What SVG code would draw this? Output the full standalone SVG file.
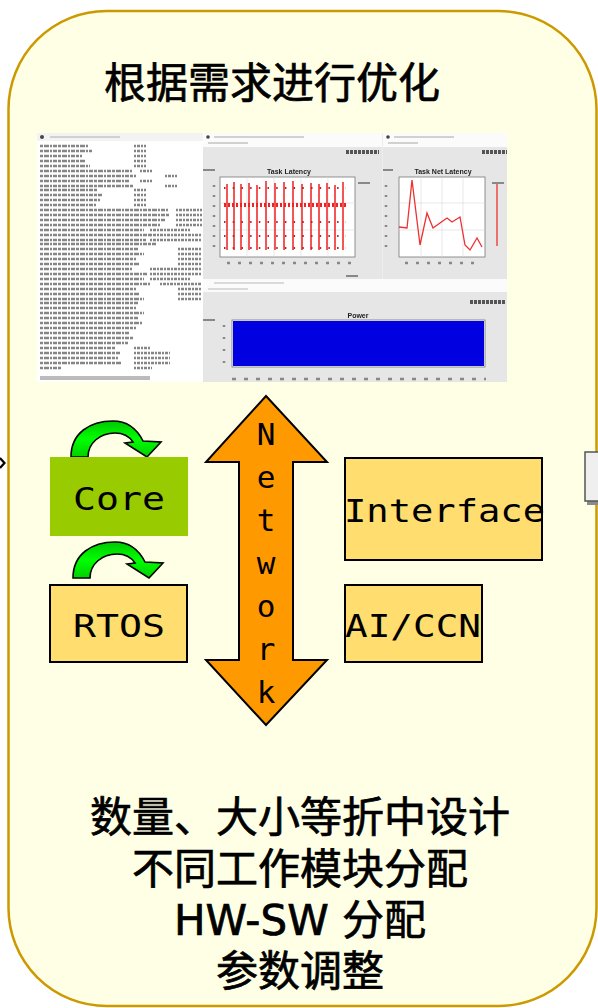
<svg xmlns="http://www.w3.org/2000/svg" width="598" height="1008" viewBox="0 0 598 1008">
  <style>
    .cjk { font-family: "DejaVu Sans", "Noto Sans CJK SC", sans-serif; fill: #000; stroke: #000; stroke-width: 0.7; }
    .mono { font-family: "DejaVu Sans Mono", "Liberation Mono", monospace; fill: #000; }
    .box { fill: #FFDD6E; stroke: #000; stroke-width: 2; }
    .txtrow { stroke: #858585; stroke-width: 2.4; fill: none; }
    .win { fill: #E6E6E6; }
    .bar { fill: #FBFBFB; }
    .ptitle { font-family: "Liberation Sans", Arial, sans-serif; font-size: 7px; font-weight: bold; fill: #222; }
  </style>
  <defs>
    <linearGradient id="greenGrad" x1="0" y1="0" x2="0" y2="1">
      <stop offset="0" stop-color="#00C800"/>
      <stop offset="0.5" stop-color="#00FF00"/>
      <stop offset="1" stop-color="#00D000"/>
    </linearGradient>
    <filter id="soft" x="30" y="125" width="485" height="265" filterUnits="userSpaceOnUse">
      <feGaussianBlur stdDeviation="0.75"/>
    </filter>
    <!-- curved "loop" arrow used above Core and RTOS -->
    <path id="loopArrow" d="M0,36 C0,12 19,0 42,0 C56,0 66,8 72,20 L90,21 L76,36 L54,22 L62,21 C58,15 52,12 44,12 C29,12 17,22 17,36 Z"
          fill="url(#greenGrad)" stroke="#000" stroke-width="1.6" stroke-linejoin="miter"/>
  </defs>

  <!-- background panel -->
  <rect x="0" y="0" width="598" height="1008" fill="#FFFFFF"/>
  <g id="panel">
    <rect x="8.5" y="11" width="588" height="995" rx="98" ry="98" fill="#FFFFE5" stroke="#CC9900" stroke-width="2.5"/>
    <text class="cjk" x="272" y="98" font-size="42" text-anchor="middle">根据需求进行优化</text>
  </g>

  <!-- simulation screenshot: console + plot windows -->
  <g id="screenshot" filter="url(#soft)">
    <rect x="37" y="133" width="470" height="249" fill="#EDEDED"/>

    <!-- console window -->
    <rect x="37" y="133" width="166" height="249" fill="#FFFFFF"/>
    <rect x="37" y="133" width="166" height="8" fill="#F3F3F3"/>
    <circle cx="42" cy="137" r="2" fill="#444"/>
    <path d="M50,137 h70" stroke="#C4C4C4" stroke-width="1.5"/>
    <path class="txtrow" stroke-dasharray="3 1 5 1 2 1 4 1"
      d="M40,146 h48 M40,151 h52 M40,156 h42 M40,161 h46 M40,166 h50
         M40,171 h92 M40,176 h96 M40,181 h90 M40,186 h94
         M40,190 h58 M40,195 h62 M40,200 h60 M40,205 h56
         M40,210 h128 M40,215 h130 M40,220 h126 M40,225 h120
         M40,230 h104 M40,235 h112 M40,240 h106 M40,244 h116
         M40,249 h98 M40,254 h104 M40,259 h96 M40,264 h100
         M40,269 h92 M40,274 h108 M40,279 h104 M40,284 h110
         M40,289 h96 M40,294 h100 M40,299 h104 M40,303 h98
         M40,308 h96 M40,313 h104 M40,318 h98 M40,323 h102
         M40,328 h96 M40,333 h90 M40,338 h94 M40,343 h88
         M40,348 h76 M40,353 h80 M40,358 h78 M40,363 h82 M40,368 h22"/>
    <path class="txtrow" stroke-dasharray="2 1 3 1"
      d="M134,146 h12 M134,151 h12 M134,156 h12 M134,161 h12 M134,166 h12
         M140,171 h12 M165,176 h12 M140,181 h12 M165,186 h12
         M134,190 h12 M134,195 h12 M134,200 h12 M134,205 h12
         M176,210 h26 M176,215 h26 M176,220 h26 M176,225 h26
         M150,230 h40 M150,235 h52 M150,240 h52
         M178,249 h24 M178,254 h24 M178,259 h24 M178,264 h24
         M150,269 h52 M150,274 h52 M150,279 h40 M160,284 h42
         M178,289 h24 M178,294 h24 M178,299 h24
         M134,348 h16 M134,353 h36 M134,358 h36 M134,363 h36 M134,368 h18"/>
    <rect x="40" y="376" width="110" height="4" fill="#BBBBBB"/>

    <!-- Task Latency window -->
    <rect class="win" x="203" y="133" width="179" height="146"/>
    <rect class="bar" x="203" y="133" width="179" height="14"/>
    <circle cx="208" cy="137" r="1.8" fill="#444"/>
    <path d="M214,137 h90 M208,143 h40" stroke="#C4C4C4" stroke-width="1.5"/>
    <path d="M346,152 h33" stroke="#555" stroke-width="4" stroke-dasharray="3 1"/>
    <rect x="220" y="177" width="135" height="80" fill="#FFFFFF" stroke="#777" stroke-width="0.8"/>
    <path d="M220,203 h135 M220,230 h135 M247,177 v80 M274,177 v80 M301,177 v80 M328,177 v80" stroke="#D8D8D8" stroke-width="0.6"/>
    <path d="M227,184 v66 M234,182 v68 M241,184 v66 M249,183 v67 M257,185 v65 M266,181 v69 M275,183 v67 M284,182 v68 M293,181 v69 M302,184 v66 M311,183 v67 M319,184 v66 M327,183 v67 M335,185 v65 M343,182 v68"
          stroke="#EE2020" stroke-width="1.5"/>
    <path d="M224,205 h122" stroke="#EE2020" stroke-width="4" stroke-dasharray="2 2"/>
    <path d="M224,188 h122 M224,222 h122 M224,236 h122 M224,248 h122" stroke="#C02020" stroke-width="2" stroke-dasharray="1.5 7.2"/>
    <text class="ptitle" x="289" y="174" text-anchor="middle">Task Latency</text>
    <path d="M214,185 v70" stroke="#888" stroke-width="2.5" stroke-dasharray="2 8"/>
    <path d="M227,263 h125" stroke="#888" stroke-width="2.5" stroke-dasharray="3 8"/>
    <path d="M203,170 h12 M358,183 h12 M346,276 h12" stroke="#888" stroke-width="2"/>

    <!-- Task Net Latency window -->
    <rect class="win" x="383" y="133" width="124" height="146"/>
    <rect class="bar" x="383" y="133" width="124" height="14"/>
    <circle cx="388" cy="137" r="1.8" fill="#444"/>
    <path d="M394,137 h60 M388,143 h30" stroke="#C4C4C4" stroke-width="1.5"/>
    <path d="M482,152 h25" stroke="#555" stroke-width="4" stroke-dasharray="3 1"/>
    <rect x="399" y="177" width="86" height="80" fill="#FFFFFF" stroke="#777" stroke-width="0.8"/>
    <path d="M399,203 h86 M399,230 h86 M421,177 v80 M442,177 v80 M463,177 v80" stroke="#D8D8D8" stroke-width="0.6"/>
    <polyline points="399,227 407,228 412,180 420,245 427,213 433,228 440,223 447,218 452,222 460,217 465,245 470,250 477,238 482,247"
              fill="none" stroke="#EE3030" stroke-width="1.3"/>
    <path d="M497,184 v62" stroke="#EE3030" stroke-width="1.3"/>
    <text class="ptitle" x="443" y="174" text-anchor="middle">Task Net Latency</text>
    <path d="M386,185 v70" stroke="#888" stroke-width="2.5" stroke-dasharray="2 8"/>
    <path d="M405,263 h72" stroke="#888" stroke-width="2.5" stroke-dasharray="3 8"/>
    <path d="M383,170 h10 M492,183 h12" stroke="#888" stroke-width="2"/>

    <!-- Power window -->
    <rect class="win" x="203" y="279" width="304" height="103"/>
    <rect class="bar" x="203" y="279" width="304" height="13"/>
    <path d="M214,283 h70 M208,289 h40" stroke="#D0D0D0" stroke-width="1.5"/>
    <path d="M470,302 h35" stroke="#555" stroke-width="4" stroke-dasharray="3 1"/>
    <rect x="232" y="320" width="253" height="47" fill="#FFFFFF" stroke="#777" stroke-width="0.8"/>
    <rect x="233" y="321" width="251" height="45" fill="#0000E0"/>
    <text class="ptitle" x="358" y="318" text-anchor="middle">Power</text>
    <path d="M224,325 v40" stroke="#888" stroke-width="2.5" stroke-dasharray="2 10"/>
    <path d="M232,379 h254" stroke="#888" stroke-width="2.5" stroke-dasharray="4 8"/>
    <path d="M203,320 h12" stroke="#888" stroke-width="2"/>
  </g>

  <!-- connectors -->
  <g id="connectors">
    <path d="M0,458 L4.5,463 L0,468" fill="none" stroke="#000" stroke-width="2.2"/>
    <use href="#loopArrow" x="71" y="421"/>
    <use href="#loopArrow" x="73" y="542"/>
  </g>

  <!-- network double arrow -->
  <g id="network">
    <polygon points="266,396 327,462 293,462 293,660 327,660 266,725 206,660 239,660 239,462 206,462"
             fill="#FF9900" stroke="#000" stroke-width="2"/>
    <g class="mono" font-size="31" text-anchor="middle">
      <text x="266" y="445">N</text>
      <text x="266" y="488">e</text>
      <text x="266" y="531">t</text>
      <text x="266" y="574">w</text>
      <text x="266" y="617">o</text>
      <text x="266" y="660">r</text>
      <text x="266" y="703">k</text>
    </g>
  </g>

  <g id="core">
    <rect x="50" y="457" width="138" height="79" fill="#99CC00"/>
    <text class="mono" x="73" y="510" font-size="32" textLength="92" lengthAdjust="spacingAndGlyphs">Core</text>
  </g>

  <g id="rtos">
    <rect class="box" x="50" y="585" width="137" height="77"/>
    <text class="mono" x="73" y="637" font-size="32" textLength="92" lengthAdjust="spacingAndGlyphs">RTOS</text>
  </g>

  <g id="interface">
    <rect class="box" x="345" y="458" width="197" height="102"/>
    <text class="mono" x="344" y="522" font-size="32" textLength="201" lengthAdjust="spacingAndGlyphs">Interface</text>
  </g>

  <g id="ai-ccn">
    <rect class="box" x="345" y="585" width="137" height="77"/>
    <text class="mono" x="345" y="637" font-size="32" textLength="136" lengthAdjust="spacingAndGlyphs">AI/CCN</text>
  </g>

  <!-- partially visible button at right edge -->
  <g id="side-button">
    <rect x="587" y="456" width="20" height="49" fill="#8A8A8A"/>
    <rect x="585" y="452" width="20" height="49" fill="#EFEFEF" stroke="#555" stroke-width="1.5"/>
  </g>

  <g id="notes" class="cjk" font-size="42" text-anchor="middle">
    <text x="300" y="832">数量、大小等折中设计</text>
    <text x="300" y="884">不同工作模块分配</text>
    <text x="300" y="935">HW-SW 分配</text>
    <text x="300" y="986">参数调整</text>
  </g>
</svg>
